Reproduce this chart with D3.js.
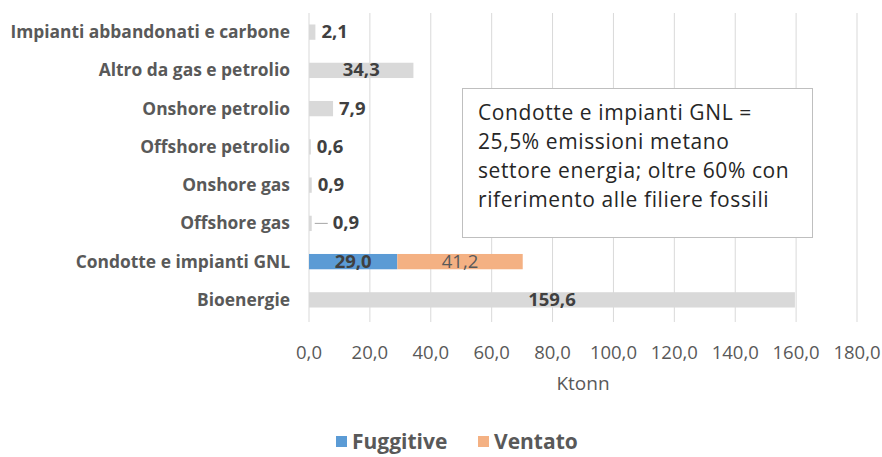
<!DOCTYPE html>
<html>
<head>
<meta charset="utf-8">
<script src="https://cdn.jsdelivr.net/npm/d3@7"></script>
<style>
  body { margin: 0; background: #fff; }
  text { font-family: "Open Sans", Lato, sans-serif; }
</style>
</head>
<body>
<svg id="chart"></svg>
<script>
const categories = ["Impianti abbandonati e carbone", "Altro da gas e petrolio", "Onshore petrolio",
    "Offshore petrolio", "Onshore gas", "Offshore gas", "Condotte e impianti GNL", "Bioenergie"];
const altro = [2.1, 34.3, 7.9, 0.6, 0.9, 0.9, 0, 159.6];
const fuggitive = [0, 0, 0, 0, 0, 0, 29.0, 0];
const ventato = [0, 0, 0, 0, 0, 0, 41.2, 0];
const ticks = [0, 20, 40, 60, 80, 100, 120, 140, 160, 180];
const noteLines = ["Condotte e impianti GNL =", "25,5% emissioni metano",
    "settore energia; oltre 60% con", "riferimento alle filiere fossili"];

const width = 882, height = 457;
const fmt = (v) => v.toFixed(1).replace(".", ",");

const svg = d3.select("#chart").attr("width", width).attr("height", height);

const x = d3.scaleLinear().domain([0, 180]).range([309, 857]);
const y = d3.scaleBand().domain(categories).range([13, 319]).paddingInner(0.6).paddingOuter(0.3);

// grid
svg.append("g").selectAll("line")
    .data(ticks)
    .join("line")
    .attr("x1", (d) => x(d)).attr("x2", (d) => x(d))
    .attr("y1", 13).attr("y2", 322)
    .attr("stroke", "#d9d9d9").attr("stroke-width", 1);

// tick labels
svg.append("g").selectAll("text")
    .data(ticks)
    .join("text")
    .attr("x", (d) => x(d)).attr("y", 359)
    .attr("text-anchor", "middle")
    .attr("font-size", 18.5).attr("fill", "#595959")
    .text((d) => fmt(d));

svg.append("text")
    .attr("x", 583).attr("y", 390)
    .attr("text-anchor", "middle").attr("font-size", 19).attr("fill", "#595959")
    .text("Ktonn");

// category labels
svg.append("g").selectAll("text")
    .data(categories)
    .join("text")
    .attr("x", 290).attr("y", (d) => y(d) + y.bandwidth() / 2 + 6)
    .attr("text-anchor", "end").attr("font-size", 17.4).attr("font-weight", "bold")
    .attr("fill", "#595959")
    .text((d) => d);

const rows = categories.map((c, i) => ({cat: c, altro: altro[i], fug: fuggitive[i], ven: ventato[i]}));

// grey bars
svg.append("g").selectAll("rect")
    .data(rows.filter((d) => d.altro > 0))
    .join("rect")
    .attr("x", x(0)).attr("y", (d) => y(d.cat))
    .attr("width", (d) => x(d.altro) - x(0)).attr("height", y.bandwidth())
    .attr("fill", "#d9d9d9");

// stacked
svg.append("g").selectAll("rect")
    .data(rows.filter((d) => d.fug > 0))
    .join("rect")
    .attr("x", x(0)).attr("y", (d) => y(d.cat))
    .attr("width", (d) => x(d.fug) - x(0)).attr("height", y.bandwidth())
    .attr("fill", "#5b9bd5");
svg.append("g").selectAll("rect")
    .data(rows.filter((d) => d.ven > 0))
    .join("rect")
    .attr("x", (d) => x(d.fug)).attr("y", (d) => y(d.cat))
    .attr("width", (d) => x(d.fug + d.ven) - x(d.fug)).attr("height", y.bandwidth())
    .attr("fill", "#f4b183");

// value labels
const labels = [];
rows.forEach((d) => {
    const cy = y(d.cat) + y.bandwidth() / 2 + 6;
    if (d.altro > 0) {
        const w = x(d.altro) - x(0);
        if (w > 60) labels.push({x: x(d.altro / 2), y: cy, t: fmt(d.altro), a: "middle", b: true, c: "#404040"});
        else labels.push({x: x(d.altro) + 6, y: cy, t: fmt(d.altro), a: "start", b: true, c: "#404040"});
    }
    if (d.fug > 0) labels.push({x: x(d.fug / 2), y: cy, t: fmt(d.fug), a: "middle", b: true, c: "#404040"});
    if (d.ven > 0) labels.push({x: x(d.fug + d.ven / 2), y: cy, t: fmt(d.ven), a: "middle", b: false, c: "#595959"});
});
// Offshore gas label pushed out with a leader line
const ogY = y("Offshore gas") + y.bandwidth() / 2;
const og = labels.find((l) => l.t === "0,9" && Math.abs(l.y - ogY - 6) < 1);
og.x = x(0.9) + 21;
svg.append("line")
    .attr("x1", x(0.9) + 3).attr("x2", og.x - 5)
    .attr("y1", ogY).attr("y2", ogY)
    .attr("stroke", "#a6a6a6");

svg.append("g").selectAll("text")
    .data(labels)
    .join("text")
    .attr("x", (d) => d.x).attr("y", (d) => d.y)
    .attr("text-anchor", (d) => d.a)
    .attr("font-size", 18.5).attr("font-weight", (d) => d.b ? "bold" : "normal")
    .attr("fill", (d) => d.c)
    .text((d) => d.t);

// note box
svg.append("rect")
    .attr("x", 462.5).attr("y", 88.5).attr("width", 350).attr("height", 149)
    .attr("fill", "#fff").attr("stroke", "#bfbfbf");
svg.append("g").selectAll("text")
    .data(noteLines)
    .join("text")
    .attr("x", 478).attr("y", (d, i) => 120 + i * 29)
    .attr("font-size", 21).attr("letter-spacing", 0.6).attr("fill", "#262626")
    .text((d) => d);

// legend
const legend = [{name: "Fuggitive", color: "#5b9bd5", x: 336}, {name: "Ventato", color: "#f4b183", x: 478}];
const lg = svg.append("g").selectAll("g").data(legend).join("g")
    .attr("transform", (d) => `translate(${d.x},436)`);
lg.append("rect").attr("width", 11).attr("height", 11).attr("fill", (d) => d.color);
lg.append("text").attr("x", 16).attr("y", 13)
    .attr("font-size", 21).attr("font-weight", "bold").attr("fill", "#595959")
    .text((d) => d.name);
</script>
</body>
</html>
